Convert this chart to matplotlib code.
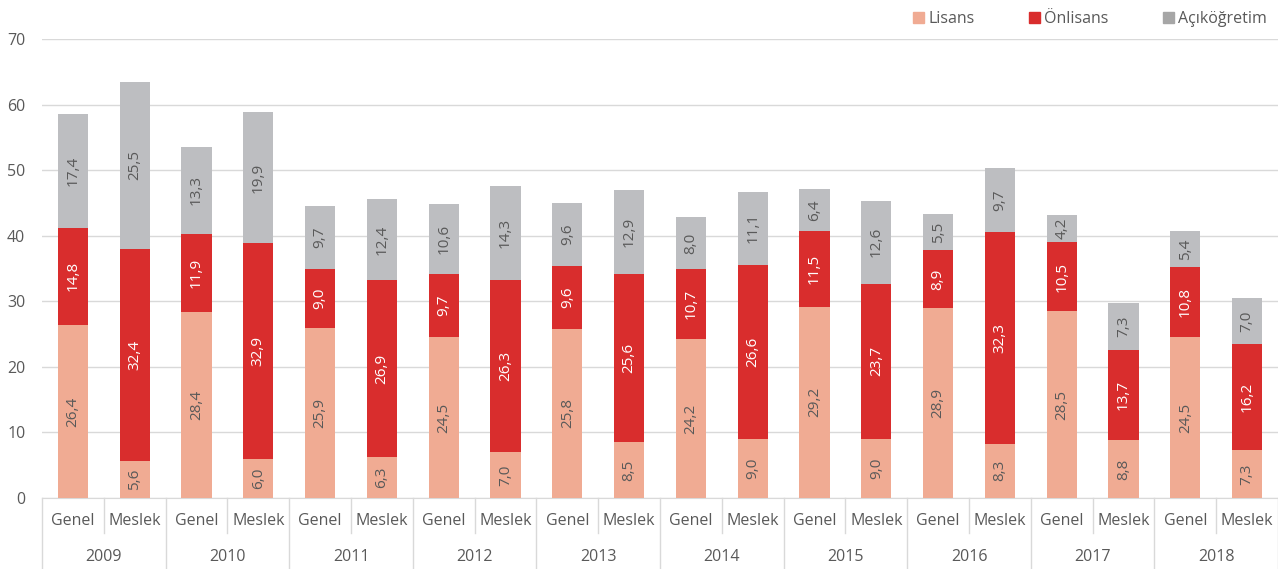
import matplotlib.pyplot as plt
from matplotlib.patches import Patch
import matplotlib.transforms as mtransforms

years = ["2009", "2010", "2011", "2012", "2013", "2014", "2015", "2016", "2017", "2018"]
types = ["Genel", "Meslek"]

# order: Genel, Meslek for each year
lisans = [26.4, 5.6, 28.4, 6.0, 25.9, 6.3, 24.5, 7.0, 25.8, 8.5,
          24.2, 9.0, 29.2, 9.0, 28.9, 8.3, 28.5, 8.8, 24.5, 7.3]
onlisans = [14.8, 32.4, 11.9, 32.9, 9.0, 26.9, 9.7, 26.3, 9.6, 25.6,
            10.7, 26.6, 11.5, 23.7, 8.9, 32.3, 10.5, 13.7, 10.8, 16.2]
acik = [17.4, 25.5, 13.3, 19.9, 9.7, 12.4, 10.6, 14.3, 9.6, 12.9,
        8.0, 11.1, 6.4, 12.6, 5.5, 9.7, 4.2, 7.3, 5.4, 7.0]

c_lis = "#F0AB93"
c_onl = "#D92D2D"
c_acik = "#BDBEC1"
txt = "#595959"
grid = "#D9D9D9"

plt.rcParams['font.family'] = ['Open Sans', 'DejaVu Sans']

fig = plt.figure(figsize=(12.78, 5.69), dpi=100)
ax = fig.add_axes([42 / 1278, 71 / 569, 1 - 42 / 1278, 459 / 569])

n = len(lisans)
xs = [i + 0.5 for i in range(n)]
w = 0.49
bot2 = [a + b for a, b in zip(lisans, onlisans)]
ax.bar(xs, lisans, w, color=c_lis, zorder=3)
ax.bar(xs, onlisans, w, bottom=lisans, color=c_onl, zorder=3)
ax.bar(xs, acik, w, bottom=bot2, color=c_acik, zorder=3)

def fmt(v):
    return f"{v:.1f}".replace(".", ",")

for i in range(n):
    ax.text(xs[i], lisans[i] / 2, fmt(lisans[i]), rotation=90, ha='center', va='center',
            color=txt, fontsize=11, zorder=4)
    ax.text(xs[i], lisans[i] + onlisans[i] / 2, fmt(onlisans[i]), rotation=90, ha='center',
            va='center', color='white', fontsize=11, zorder=4)
    ax.text(xs[i], bot2[i] + acik[i] / 2, fmt(acik[i]), rotation=90, ha='center', va='center',
            color=txt, fontsize=11, zorder=4)

ax.set_xlim(0, n)
ax.set_ylim(0, 70)
ax.set_yticks(range(0, 71, 10))
ax.yaxis.grid(True, color=grid, linewidth=1, zorder=0)
ax.set_axisbelow(True)
ax.tick_params(axis='y', length=0, labelsize=11.5, labelcolor=txt, pad=12)
ax.set_xticks([])
for s in ['top', 'right', 'left']:
    ax.spines[s].set_visible(False)
ax.spines['bottom'].set_color(grid)

# two-level category axis
tr = mtransforms.blended_transform_factory(ax.transData, ax.transAxes)
px = 1 / 459
for i in range(n):
    ax.text(xs[i], -23 * px, types[i % 2], transform=tr, ha='center', va='center',
            color=txt, fontsize=11.5)
for j, y in enumerate(years):
    ax.text(2 * j + 1, -59 * px, y, transform=tr, ha='center', va='center',
            color=txt, fontsize=11.5)
for k in range(n + 1):
    if k % 2 == 0:
        ax.plot([k, k], [0, -71 * px], transform=tr, color=grid, lw=1, clip_on=False)
    else:
        ax.plot([k, k], [0, -35 * px], transform=tr, color=grid, lw=1, clip_on=False)

handles = [Patch(color=c_lis, label="Lisans"), Patch(color=c_onl, label="Önlisans"),
           Patch(color="#A6A6A6", label="Açıköğretim")]
fig.legend(handles=handles, ncol=3, loc='upper right', bbox_to_anchor=(1.0, 1.0),
           frameon=False, fontsize=11.5, labelcolor=txt, handlelength=0.7, handleheight=0.7,
           handletextpad=0.25, columnspacing=3.4, borderaxespad=0.3)

fig.savefig("out.png", dpi=100)
